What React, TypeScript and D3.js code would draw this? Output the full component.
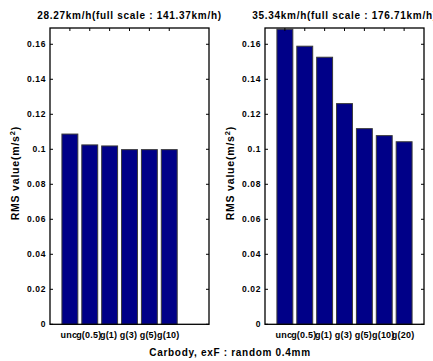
import React from "react";
import * as d3 from "d3";

const leftCategories = ["unc", "g(0.5)", "g(1)", "g(3)", "g(5)", "g(10)"];
const leftValues = [0.1087, 0.1025, 0.1019, 0.0998, 0.0998, 0.0998];
const rightCategories = ["unc", "g(0.5)", "g(1)", "g(3)", "g(5)", "g(10)", "g(20)"];
const rightValues = [0.1686, 0.1589, 0.1526, 0.1261, 0.1118, 0.1078, 0.1043];
const yTicks = [0, 0.02, 0.04, 0.06, 0.08, 0.1, 0.12, 0.14, 0.16];
const leftTitle = "28.27km/h(full scale : 141.37km/h)";
const rightTitle = "35.34km/h(full scale : 176.71km/h)";
const xLabel = "Carbody, exF : random 0.4mm";

const FONT = "'Liberation Sans', Arial, Helvetica, sans-serif";

function Panel({ x0, x1, cats, vals, title }: { x0: number; x1: number; cats: string[]; vals: number[]; title: string }) {
  const top = 28;
  const bottom = 324.3;
  const x = d3.scaleLinear().domain([0, 8]).range([x0, x1]);
  const y = d3.scaleLinear().domain([0, 0.1693]).range([bottom, top]);
  const bw = x(0.8) - x(0);
  const tickLen = 3;
  return (
    <g fontFamily={FONT} fontWeight="bold">
      {vals.map((v, i) => (
        <rect
          key={i}
          x={x(i + 1) - bw / 2}
          y={y(v)}
          width={bw}
          height={y(0) - y(v)}
          fill="#000088"
          stroke="#3a3a3a"
          strokeWidth={1}
        />
      ))}
      <rect x={x0} y={top} width={x1 - x0} height={bottom - top} fill="none" stroke="#000" strokeWidth={1.3} />
      {yTicks.map((t) => (
        <g key={t}>
          <line x1={x0} x2={x0 + tickLen} y1={y(t)} y2={y(t)} stroke="#000" />
          <line x1={x1} x2={x1 - tickLen} y1={y(t)} y2={y(t)} stroke="#000" />
          <text x={x0 - 4} y={y(t)} dy="0.35em" textAnchor="end" fontSize={8.5} letterSpacing={0.6} fill="#000">
            {String(+t.toFixed(2))}
          </text>
        </g>
      ))}
      {cats.map((c, i) => (
        <g key={c}>
          <line x1={x(i + 1)} x2={x(i + 1)} y1={top} y2={top + tickLen} stroke="#000" />
          <text x={x(i + 1) - 1} y={bottom + 14} textAnchor="middle" fontSize={9} letterSpacing={0.2} fill="#000">
            {c}
          </text>
        </g>
      ))}
      <text x={(x0 + x1) / 2} y={19} textAnchor="middle" fontSize={10} letterSpacing={0.7} fill="#000">
        {title}
      </text>
      <text
        transform={`translate(${x0 - 31},${(top + bottom) / 2 - 3}) rotate(-90)`}
        textAnchor="middle"
        fontSize={10.5}
        letterSpacing={0.8}
        fill="#000"
      >
        RMS value(m/s<tspan dy="-4" fontSize={7.5}>2</tspan>
        <tspan dy="4">)</tspan>
      </text>
    </g>
  );
}

export default function App() {
  return (
    <svg
      width={433}
      height={361}
      style={{ position: "absolute", left: 0, top: 0, background: "#fff" }}
    >
      <rect width={433} height={361} fill="#fff" />
      <Panel x0={50} x1={209} cats={leftCategories} vals={leftValues} title={leftTitle} />
      <Panel x0={265} x1={424} cats={rightCategories} vals={rightValues} title={rightTitle} />
      <text x={230} y={356} textAnchor="middle" fontSize={10} letterSpacing={0.7} fontWeight="bold" fontFamily={FONT} fill="#000">
        {xLabel}
      </text>
    </svg>
  );
}
